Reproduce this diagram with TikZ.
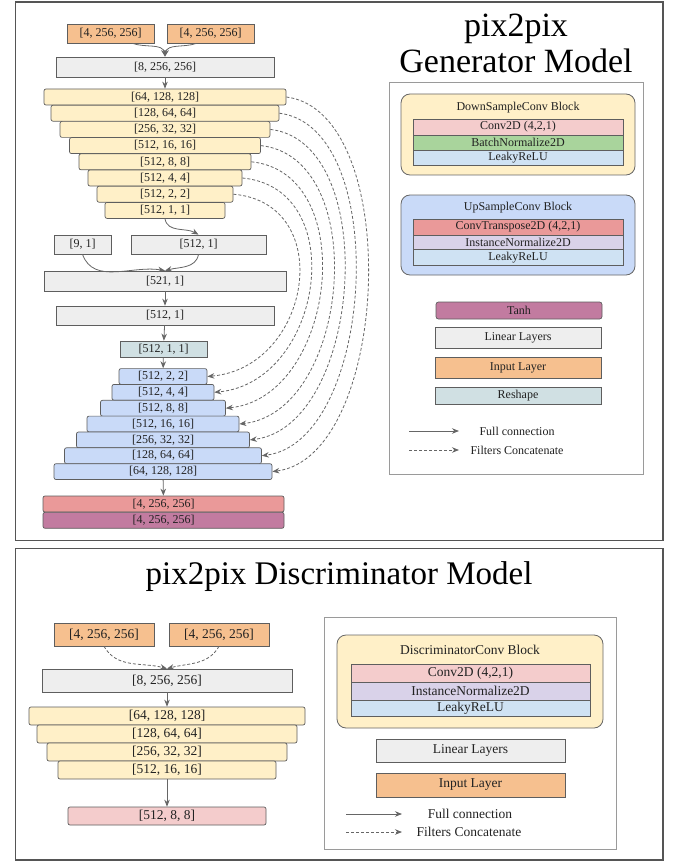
\documentclass[tikz,border=0pt]{standalone}
\usepackage{fontspec}
\setmainfont{Liberation Serif}
\newfontfamily\lserif{Liberation Serif}
\usetikzlibrary{arrows.meta}
\definecolor{bd}{HTML}{5E5E5E}
\definecolor{ln}{HTML}{666666}
\definecolor{tx}{HTML}{222222}
\definecolor{frm}{HTML}{555555}
\definecolor{lgb}{HTML}{9A9A9A}
\definecolor{org}{HTML}{F6C08F}
\definecolor{gry}{HTML}{EEEEEE}
\definecolor{yel}{HTML}{FFF0C8}
\definecolor{blu}{HTML}{C9DAF8}
\definecolor{tea}{HTML}{D0E0E3}
\definecolor{red}{HTML}{EA9999}
\definecolor{pur}{HTML}{C27BA0}
\definecolor{pnk}{HTML}{F4CCCC}
\definecolor{grn}{HTML}{A9D49C}
\definecolor{lbl}{HTML}{CFE2F3}
\definecolor{lav}{HTML}{D9D2E9}
\begin{document}
\begin{tikzpicture}[x=1pt,y=-1pt]
\tikzset{
  lay/.style={draw=bd, line width=0.7pt, inner sep=0pt, text=tx, font=\lserif\fontsize{12}{12}\selectfont},
  dlay/.style={lay, font=\lserif\fontsize{13.5}{13.5}\selectfont},
  sz/.style 2 args={minimum width=#1pt, minimum height=#2pt},
  yb/.style={fill=yel, rounded corners=2pt},
  bb/.style={fill=blu, rounded corners=2pt},
  conn/.style={draw=ln, line width=0.8pt, -{Stealth[length=7pt,width=5.5pt]}},
  dconn/.style={conn, dash pattern=on 3pt off 2pt},
  frame/.style={draw=frm, line width=1.2pt},
  legbox/.style={draw=lgb, line width=0.9pt},
  block/.style={draw=ln, line width=0.8pt, rounded corners=9pt},
  ttl/.style={inner sep=0pt, anchor=base, text=black, font=\lserif\fontsize{34}{34}\selectfont},
  plain/.style={inner sep=0pt, text=tx, font=\lserif\fontsize{12}{12}\selectfont},
  dplain/.style={inner sep=0pt, text=tx, font=\lserif\fontsize{13.5}{13.5}\selectfont}
}
\useasboundingbox (0,0) rectangle (673,861);
\fill[white] (0,0) rectangle (673,861);

% ================= GENERATOR =================
\draw[frame] (15.5,2) rectangle (663,540.5);

\node[lay, fill=org, sz={87}{19}] (gin1) at (110.5,33.5) {[4, 256, 256]};
\node[lay, fill=org, sz={87}{19}] (gin2) at (210.5,33.5) {[4, 256, 256]};
\node[lay, fill=gry, sz={218}{20}] (glin0) at (165,67) {[8, 256, 256]};

\node[lay, yb, sz={242}{16}] (y1) at (165,97) {[64, 128, 128]};
\node[lay, yb, sz={228}{16}] (y2) at (165,113.2) {[128, 64, 64]};
\node[lay, yb, sz={210}{16}] (y3) at (165,129.4) {[256, 32, 32]};
\node[lay, yb, sz={191}{16}] (y4) at (165,145.6) {[512, 16, 16]};
\node[lay, yb, sz={172}{16}] (y5) at (165,161.8) {[512, 8, 8]};
\node[lay, yb, sz={154}{16}] (y6) at (165,178) {[512, 4, 4]};
\node[lay, yb, sz={136}{16}] (y7) at (165,194.2) {[512, 2, 2]};
\node[lay, yb, sz={120}{16}] (y8) at (165,210.4) {[512, 1, 1]};

\node[lay, fill=gry, sz={57}{19}] (g91) at (82.5,244.5) {[9, 1]};
\node[lay, fill=gry, sz={135}{19}] (glina) at (198.5,244.5) {[512, 1]};
\node[lay, fill=gry, sz={242}{20}] (glinb) at (165,281) {[521, 1]};
\node[lay, fill=gry, sz={218}{19}] (glinc) at (165,315.5) {[512, 1]};
\node[lay, fill=tea, sz={87}{16}] (gres) at (163.5,349) {[512, 1, 1]};

\node[lay, bb, sz={88}{15.8}] (b1) at (163,376.5) {[512, 2, 2]};
\node[lay, bb, sz={102}{15.8}] (b2) at (163,392.3) {[512, 4, 4]};
\node[lay, bb, sz={125}{15.8}] (b3) at (163,408.2) {[512, 8, 8]};
\node[lay, bb, sz={152}{15.8}] (b4) at (163,424) {[512, 16, 16]};
\node[lay, bb, sz={173}{15.8}] (b5) at (163,439.9) {[256, 32, 32]};
\node[lay, bb, sz={197}{15.8}] (b6) at (163,455.7) {[128, 64, 64]};
\node[lay, bb, sz={218}{15.8}] (b7) at (163,471.6) {[64, 128, 128]};

\node[lay, fill=red, rounded corners=2pt, sz={241}{16}] (gout1) at (163.5,504) {[4, 256, 256]};
\node[lay, fill=pur, rounded corners=2pt, sz={241}{16}] (gout2) at (163.5,520.3) {[4, 256, 256]};

% solid connectors
\draw[conn] ([xshift=22pt]gin1.south) to[out=-20,in=100] (glin0.north);
\draw[conn] ([xshift=-14pt]gin2.south) to[out=-160,in=80] (glin0.north);
\draw[conn] (glin0) -- (y1);
\draw[conn] (y8.south) to[out=-80,in=150] (glina.north);
\draw[conn] (g91.south) to[out=-70,in=170] (glinb.north);
\draw[conn] (glina.south) to[out=-100,in=15] (glinb.north);
\draw[conn] (glinb) -- (glinc);
\draw[conn] (glinc) -- (gres);
\draw[conn] (gres) -- (b1);
\draw[conn] (b7) -- (gout1);

% skip connections
\draw[dconn] (y1.east) .. controls +(118,15) and +(118,-15) .. (b7.east);
\draw[dconn] (y2.east) .. controls +(113,14) and +(113,-14) .. (b6.east);
\draw[dconn] (y3.east) .. controls +(112,13) and +(112,-13) .. (b5.east);
\draw[dconn] (y4.east) .. controls +(111,12) and +(111,-12) .. (b4.east);
\draw[dconn] (y5.east) .. controls +(110,11) and +(110,-11) .. (b3.east);
\draw[dconn] (y6.east) .. controls +(109,10) and +(109,-10) .. (b2.east);
\draw[dconn] (y7.east) .. controls +(104,9) and +(104,-9) .. (b1.east);

% title
\node[ttl] (gt1) at (516,37) {pix2pix};
\node[ttl] (gt2) at (516,73) {Generator Model};

% legend
\draw[legbox] (389,82) rectangle (643,474);
\draw[block, fill=yel] (401,94) rectangle (635,175);
\node[plain] (dsbt) at (518,108) {DownSampleConv Block};
\node[lay, fill=pnk, sz={210}{16}] (dsr1) at (518,127) {Conv2D (4,2,1)};
\node[lay, fill=grn, sz={210}{15}] (dsr2) at (518,142.5) {BatchNormalize2D};
\node[lay, fill=lbl, sz={210}{15}] (dsr3) at (518,157.5) {LeakyReLU};

\draw[block, fill=blu] (401,195) rectangle (635,275);
\node[plain] (usbt) at (518,207.5) {UpSampleConv Block};
\node[lay, fill=red, sz={210}{16}] (usr1) at (518,227) {ConvTranspose2D (4,2,1)};
\node[lay, fill=lav, sz={210}{14.5}] (usr2) at (518,242.2) {InstanceNormalize2D};
\node[lay, fill=lbl, sz={210}{15.5}] (usr3) at (518,257.2) {LeakyReLU};

\node[lay, fill=pur, rounded corners=2.5pt, sz={166}{17}] (lt) at (519,310.5) {Tanh};
\node[lay, fill=gry, sz={166}{21}] (ll) at (518,337.5) {Linear Layers};
\node[lay, fill=org, sz={166}{21}] (li) at (518,367.5) {Input Layer};
\node[lay, fill=tea, sz={166}{17}] (lr) at (518,395.5) {Reshape};

\coordinate (fa1) at (409,431);
\coordinate (fa2) at (459,431);
\coordinate (fb1) at (409,450);
\coordinate (fb2) at (459,450);
\draw[conn] (fa1) -- (fa2);
\draw[dconn] (fb1) -- (fb2);
\node[plain] (lfc) at (517,431) {Full connection};
\node[plain] (lfcc) at (517,450) {Filters Concatenate};

% ================= DISCRIMINATOR =================
\draw[frame] (15.5,548.5) rectangle (663,860);
\node[ttl, font=\lserif\fontsize{33}{33}\selectfont] (dt) at (339,584) {pix2pix Discriminator Model};

\node[dlay, fill=org, sz={100}{23}] (din1) at (104,634.5) {[4, 256, 256]};
\node[dlay, fill=org, sz={100}{23}] (din2) at (219,634.5) {[4, 256, 256]};
\node[dlay, fill=gry, sz={250}{23}] (dlin) at (167,680.5) {[8, 256, 256]};
\node[dlay, yb, sz={276}{18}] (dy1) at (167,716) {[64, 128, 128]};
\node[dlay, yb, sz={260}{18}] (dy2) at (167,734) {[128, 64, 64]};
\node[dlay, yb, sz={240}{18}] (dy3) at (167,752) {[256, 32, 32]};
\node[dlay, yb, sz={218}{18}] (dy4) at (167,770) {[512, 16, 16]};
\node[dlay, fill=pnk, rounded corners=2pt, sz={198}{18}] (dout) at (167,816) {[512, 8, 8]};

\draw[dconn] (din1.south) to[out=-60,in=165] (dlin.north);
\draw[dconn] (din2.south) to[out=-120,in=15] (dlin.north);
\draw[conn] (dlin) -- (dy1);
\draw[conn] (dy4) -- (dout);

% legend
\draw[legbox] (324,617) rectangle (616,849);
\draw[block, fill=yel] (337,635) rectangle (603,728);
\node[dplain] (dcbt) at (470,650) {DiscriminatorConv Block};
\node[dlay, fill=pnk, sz={239}{18}] (dcr1) at (470.5,673) {Conv2D (4,2,1)};
\node[dlay, fill=lav, sz={239}{18}] (dcr2) at (470.5,691) {InstanceNormalize2D};
\node[dlay, fill=lbl, sz={239}{16}] (dcr3) at (470.5,708) {LeakyReLU};
\node[dlay, fill=gry, sz={189}{23}] (dll) at (470.5,750.5) {Linear Layers};
\node[dlay, fill=org, sz={189}{24}] (dli) at (470.5,785) {Input Layer};

\coordinate (da1) at (346,814);
\coordinate (da2) at (402,814);
\coordinate (db1) at (346,832);
\coordinate (db2) at (402,832);
\draw[conn] (da1) -- (da2);
\draw[dconn] (db1) -- (db2);
\node[dplain] (dlfc) at (470,814) {Full connection};
\node[dplain] (dlfcc) at (469,832) {Filters Concatenate};
\end{tikzpicture}
\end{document}
